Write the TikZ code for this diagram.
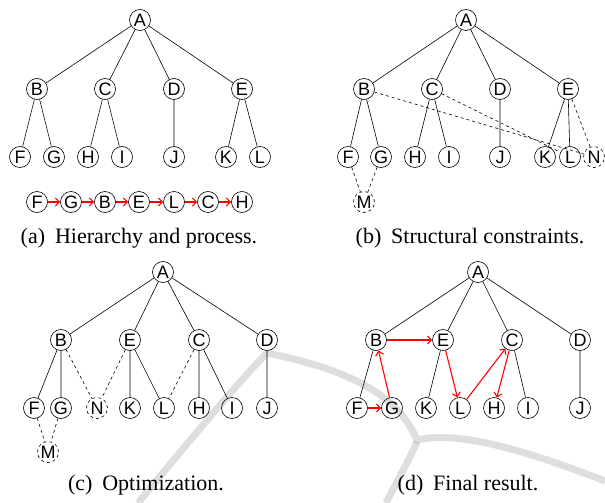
\documentclass[tikz,border=0pt]{standalone}
\usepackage{fontspec}
\setmainfont{Liberation Serif}
\setsansfont{Liberation Sans}
\usetikzlibrary{arrows.meta}
\tikzset{
  vtx/.style={circle, draw, line width=0.6pt, inner sep=0pt, minimum size=21pt, fill=white, font=\fontsize{18}{18}\sffamily},
  vtxd/.style={vtx, dashed},
  edge/.style={line width=0.6pt},
  edged/.style={line width=0.6pt, dashed},
  flow/.style={red, line width=1.1pt, -{Straight Barb[length=4pt,width=8pt]}},
  capt/.style={font=\fontsize{22}{26}\selectfont}
}

\begin{document}
\begin{tikzpicture}[x=1pt, y=-1pt]
		%%%%% START %%%%%
		\useasboundingbox (0, 0) rectangle (605, 503);
		
		% (a) hierarchy and process
		\node[vtx] (aA) at (140, 20) {A};
		\node[vtx] (aB) at (37, 89) {B};
		\node[vtx] (aC) at (105, 89) {C};
		\node[vtx] (aD) at (174, 89) {D};
		\node[vtx] (aE) at (242, 89) {E};
		\node[vtx] (aF) at (20, 157) {F};
		\node[vtx] (aG) at (54, 157) {G};
		\node[vtx] (aH) at (88, 157) {H};
		\node[vtx] (aI) at (122, 157) {I};
		\node[vtx] (aJ) at (174, 157) {J};
		\node[vtx] (aK) at (226, 157) {K};
		\node[vtx] (aL) at (260, 157) {L};
		\draw[edge] (aA) -- (aB) (aA) -- (aC) (aA) -- (aD) (aA) -- (aE);
		\draw[edge] (aB) -- (aF) (aB) -- (aG) (aC) -- (aH) (aC) -- (aI);
		\draw[edge] (aD) -- (aJ) (aE) -- (aK) (aE) -- (aL);
		
		\node[vtx] (s1) at (37, 202) {F};
		\node[vtx] (s2) at (71, 202) {G};
		\node[vtx] (s3) at (105, 202) {B};
		\node[vtx] (s4) at (139, 202) {E};
		\node[vtx] (s5) at (174, 202) {L};
		\node[vtx] (s6) at (208, 202) {C};
		\node[vtx] (s7) at (242, 202) {H};
		\draw[flow] (s1) -- (s2);
		\draw[flow] (s2) -- (s3);
		\draw[flow] (s3) -- (s4);
		\draw[flow] (s4) -- (s5);
		\draw[flow] (s5) -- (s6);
		\draw[flow] (s6) -- (s7);
		
		\node[capt] (capa) at (139, 238) {(a)\hspace{0.45em}Hierarchy and process.};
		
		% (b) structural constraints
		\node[vtx] (bA) at (466, 20) {A};
		\node[vtx] (bB) at (364, 89) {B};
		\node[vtx] (bC) at (432, 89) {C};
		\node[vtx] (bD) at (500, 89) {D};
		\node[vtx] (bE) at (568, 89) {E};
		\node[vtx] (bF) at (348, 157) {F};
		\node[vtx] (bG) at (381, 157) {G};
		\node[vtx] (bH) at (415, 157) {H};
		\node[vtx] (bI) at (449, 157) {I};
		\node[vtx] (bJ) at (500, 157) {J};
		\node[vtx] (bK) at (545, 157) {K};
		\node[vtx] (bL) at (570, 157) {L};
		\node[vtxd] (bN) at (594, 157) {N};
		\node[vtxd] (bM) at (364, 202) {M};
		\draw[edge] (bA) -- (bB) (bA) -- (bC) (bA) -- (bD) (bA) -- (bE);
		\draw[edge] (bB) -- (bF) (bB) -- (bG) (bC) -- (bH) (bC) -- (bI);
		\draw[edge] (bD) -- (bJ) (bE) -- (bK) (bE) -- (bL);
		\draw[edged] (bB) -- (bN) (bC) -- (bL) (bE) -- (bN);
		\draw[edged] (bF) -- (bM) (bG) -- (bM);
		
		\node[capt] (capb) at (470, 238) {(b)\hspace{0.45em}Structural constraints.};
		
		% (c) optimization
		\node[vtx] (cA) at (163, 272) {A};
		\node[vtx] (cB) at (61, 340) {B};
		\node[vtx] (cE) at (130, 340) {E};
		\node[vtx] (cC) at (199, 340) {C};
		\node[vtx] (cD) at (267, 340) {D};
		\node[vtx] (cF) at (34, 408) {F};
		\node[vtx] (cG) at (61, 408) {G};
		\node[vtxd] (cN) at (97, 408) {N};
		\node[vtx] (cK) at (130, 408) {K};
		\node[vtx] (cL) at (164, 408) {L};
		\node[vtx] (cH) at (199, 408) {H};
		\node[vtx] (cI) at (232, 408) {I};
		\node[vtx] (cJ) at (267, 408) {J};
		\node[vtxd] (cM) at (48, 452) {M};
		\draw[edge] (cA) -- (cB) (cA) -- (cE) (cA) -- (cC) (cA) -- (cD);
		\draw[edge] (cB) -- (cF) (cB) -- (cG) (cE) -- (cK) (cE) -- (cL);
		\draw[edge] (cC) -- (cH) (cC) -- (cI) (cD) -- (cJ);
		\draw[edged] (cB) -- (cN) (cE) -- (cN) (cC) -- (cL);
		\draw[edged] (cF) -- (cM) (cG) -- (cM);
		
		\node[capt] (capc) at (146, 485) {(c)\hspace{0.45em}Optimization.};
		
		% (d) final result
		\node[vtx] (dA) at (478, 272) {A};
		\node[vtx] (dB) at (376, 340) {B};
		\node[vtx] (dE) at (443, 340) {E};
		\node[vtx] (dC) at (512, 340) {C};
		\node[vtx] (dD) at (580, 340) {D};
		\node[vtx] (dF) at (357, 408) {F};
		\node[vtx] (dG) at (392, 408) {G};
		\node[vtx] (dK) at (426, 408) {K};
		\node[vtx] (dL) at (460, 408) {L};
		\node[vtx] (dH) at (494, 408) {H};
		\node[vtx] (dI) at (528, 408) {I};
		\node[vtx] (dJ) at (580, 408) {J};
		\draw[edge] (dA) -- (dB) (dA) -- (dE) (dA) -- (dC) (dA) -- (dD);
		\draw[edge] (dB) -- (dF) (dE) -- (dK) (dC) -- (dI) (dD) -- (dJ);
		\draw[flow] (dF) -- (dG);
		\draw[flow] (dG) -- (dB);
		\draw[flow] (dB) -- (dE);
		\draw[flow] (dE) -- (dL);
		\draw[flow] (dL) -- (dC);
		\draw[flow] (dC) -- (dH);
		
		\node[capt] (capd) at (468, 485) {(d)\hspace{0.45em}Final result.};
		
		% grey mark over the lower half
		\draw[black, opacity=0.13, line width=7pt, line join=round]
			(138, 503) .. controls (190, 440) and (240, 380) .. (267, 353)
			.. controls (360, 372) and (400, 400) .. (417, 440)
			.. controls (460, 430) and (530, 452) .. (605, 481);
		\draw[black, opacity=0.13, line width=7pt]
			(417, 442) .. controls (408, 462) and (395, 485) .. (386, 503);
		
		%%%%% END %%%%%
\end{tikzpicture}
\end{document}
